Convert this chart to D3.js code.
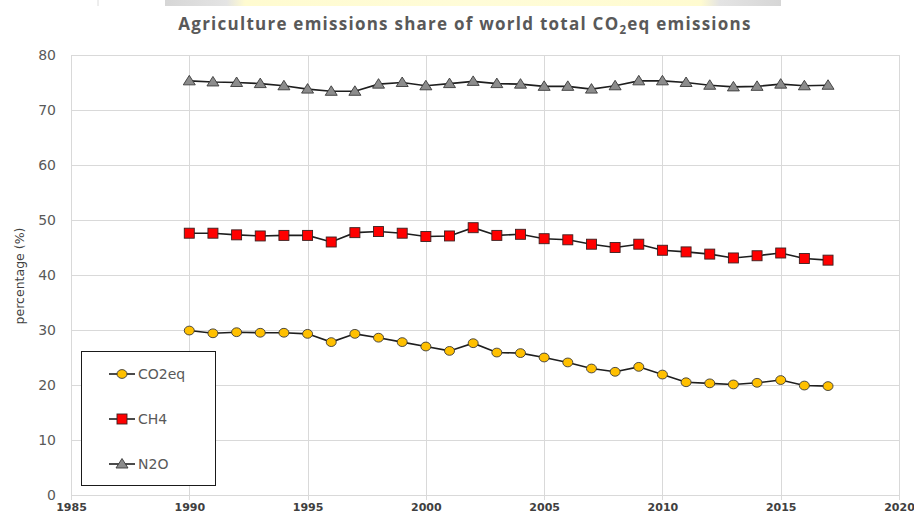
<!DOCTYPE html>
<html>
<head>
<meta charset="utf-8">
<script src="https://cdn.jsdelivr.net/npm/d3@7"></script>
<style>
  html, body { margin: 0; padding: 0; background: #fff; }
  svg { display: block; }
</style>
</head>
<body>
<svg id="chart" width="914" height="515"></svg>
<script>
// Share of world total CO2eq emissions coming from agriculture, by gas (%)
const years = d3.range(1990, 2018);
const co2eq = [29.9, 29.4, 29.6, 29.5, 29.5, 29.3, 27.8, 29.3, 28.6, 27.8,
               27.0, 26.2, 27.6, 25.9, 25.8, 25.0, 24.1, 23.0, 22.4, 23.3,
               21.9, 20.5, 20.3, 20.1, 20.4, 20.9, 19.9, 19.8];
const ch4 = [47.6, 47.6, 47.3, 47.1, 47.2, 47.2, 46.0, 47.7, 47.9, 47.6,
             47.0, 47.1, 48.6, 47.2, 47.4, 46.6, 46.4, 45.6, 45.0, 45.6,
             44.5, 44.2, 43.8, 43.1, 43.5, 44.0, 43.0, 42.7];
const n2o = [75.3, 75.1, 75.0, 74.8, 74.4, 73.8, 73.4, 73.4, 74.7, 75.0,
             74.4, 74.8, 75.2, 74.8, 74.7, 74.3, 74.3, 73.8, 74.4, 75.3,
             75.3, 75.0, 74.5, 74.2, 74.3, 74.7, 74.4, 74.5];
const xTicks = [1985, 1990, 1995, 2000, 2005, 2010, 2015, 2020];
const yTicks = [0, 10, 20, 30, 40, 50, 60, 70, 80];
const seriesNames = ["CO2eq", "CH4", "N2O"];

const series = [
  { name: seriesNames[0], values: co2eq, shape: "circle",   fill: "#ffc000" },
  { name: seriesNames[1], values: ch4,   shape: "square",   fill: "#ff0000" },
  { name: seriesNames[2], values: n2o,   shape: "triangle", fill: "#8c8c8c" }
];

const svg = d3.select("#chart");
const plot = { left: 71, right: 899, top: 55, bottom: 495 };

const x = d3.scaleLinear().domain([1985, 2020]).range([plot.left, plot.right]);
const y = d3.scaleLinear().domain([0, 80]).range([plot.bottom, plot.top]);

// faint banner strip along the top edge
const defs = svg.append("defs");
const grad = defs.append("linearGradient").attr("id", "band");
[["0%", "#d6d6d6"], ["10%", "#e4e4e4"], ["13%", "#fffbd0"], ["50%", "#fffcd8"],
 ["87%", "#fffbd0"], ["90%", "#e4e4e4"], ["100%", "#d6d6d6"]]
  .forEach(([o, c]) => grad.append("stop").attr("offset", o).attr("stop-color", c));
svg.append("rect").attr("x", 165).attr("y", 0).attr("width", 616).attr("height", 6)
  .attr("fill", "url(#band)");
svg.append("line").attr("x1", 98).attr("x2", 98).attr("y1", 0).attr("y2", 6)
  .attr("stroke", "#dcdcdc").attr("stroke-width", 1);

// title
const title = svg.append("text")
  .attr("x", 465).attr("y", 30)
  .attr("text-anchor", "middle")
  .attr("font-family", "'Open Sans', sans-serif")
  .attr("font-weight", 700)
  .attr("font-size", 17)
  .attr("letter-spacing", 1.25)
  .attr("fill", "#595959");
title.append("tspan").text("Agriculture emissions share of world total CO");
title.append("tspan").attr("font-size", 11.5).attr("dy", 4).text("2");
title.append("tspan").attr("dy", -4).text("eq emissions");

// gridlines
const grid = svg.append("g").attr("stroke", "#d9d9d9").attr("stroke-width", 1);
grid.selectAll(".h").data(yTicks).join("line")
  .attr("x1", plot.left).attr("x2", plot.right)
  .attr("y1", d => Math.round(y(d)) + 0.5).attr("y2", d => Math.round(y(d)) + 0.5);
grid.selectAll(".v").data(xTicks).join("line")
  .attr("y1", plot.top).attr("y2", plot.bottom + 5)
  .attr("x1", d => Math.round(x(d)) + 0.5).attr("x2", d => Math.round(x(d)) + 0.5);

// axes
const yAxis = svg.append("g")
  .attr("transform", `translate(${plot.left},0)`)
  .call(d3.axisLeft(y).tickValues(yTicks).tickSize(0).tickPadding(15));
yAxis.select(".domain").attr("stroke", "#d9d9d9");
yAxis.selectAll("text")
  .attr("font-family", "'DejaVu Sans', Verdana, sans-serif")
  .attr("font-size", 14).attr("fill", "#595959");

const xAxis = svg.append("g")
  .attr("transform", `translate(0,${plot.bottom})`)
  .call(d3.axisBottom(x).tickValues(xTicks).tickFormat(d3.format("d")).tickSize(0).tickPadding(8));
xAxis.select(".domain").attr("stroke", "#d9d9d9");
xAxis.selectAll("text")
  .attr("font-family", "'DejaVu Sans', Verdana, sans-serif")
  .attr("font-weight", 700)
  .attr("font-size", 11).attr("fill", "#404040");

// y axis title
svg.append("text")
  .attr("transform", "translate(24,276) rotate(-90)")
  .attr("text-anchor", "middle")
  .attr("font-family", "'DejaVu Sans', Verdana, sans-serif")
  .attr("font-size", 12.5)
  .attr("fill", "#404040")
  .text("percentage (%)");

// marker drawing
function marker(sel, s, cx, cy) {
  if (s.shape === "circle") {
    sel.append("ellipse").attr("cx", cx).attr("cy", cy).attr("rx", 5).attr("ry", 4.4)
      .attr("fill", s.fill).attr("stroke", "#3a3a3a").attr("stroke-width", 0.9);
  } else if (s.shape === "square") {
    sel.append("rect").attr("x", cx - 5).attr("y", cy - 5).attr("width", 10).attr("height", 10)
      .attr("fill", s.fill).attr("stroke", "#3a2020").attr("stroke-width", 0.9);
  } else {
    const pts = [[cx, cy - 5.5], [cx + 6, cy + 4], [cx - 6, cy + 4]];
    sel.append("path").attr("d", "M" + pts.map(p => p.join(",")).join("L") + "Z")
      .attr("fill", s.fill).attr("stroke", "#3a3a3a").attr("stroke-width", 0.9);
  }
}

const line = d3.line().x((d, i) => x(years[i])).y(d => y(d));

series.forEach(s => {
  const g = svg.append("g");
  g.append("path").attr("d", line(s.values))
    .attr("fill", "none").attr("stroke", "#1e1e1e").attr("stroke-width", 1.6);
  s.values.forEach((v, i) => marker(g, s, x(years[i]), y(v)));
});

// legend
const lg = svg.append("g");
lg.append("rect").attr("x", 81.5).attr("y", 351.5).attr("width", 134).attr("height", 134)
  .attr("fill", "#fff").attr("stroke", "#1a1a1a").attr("stroke-width", 1);
series.forEach((s, i) => {
  const cy = 374 + i * 45;
  lg.append("line").attr("x1", 109).attr("x2", 135).attr("y1", cy).attr("y2", cy)
    .attr("stroke", "#1e1e1e").attr("stroke-width", 1.6);
  marker(lg, s, 122, cy);
  lg.append("text").attr("x", 138).attr("y", cy + 5)
    .attr("font-family", "'DejaVu Sans', Verdana, sans-serif")
    .attr("font-size", 14).attr("fill", "#595959")
    .text(s.name);
});
</script>
</body>
</html>
